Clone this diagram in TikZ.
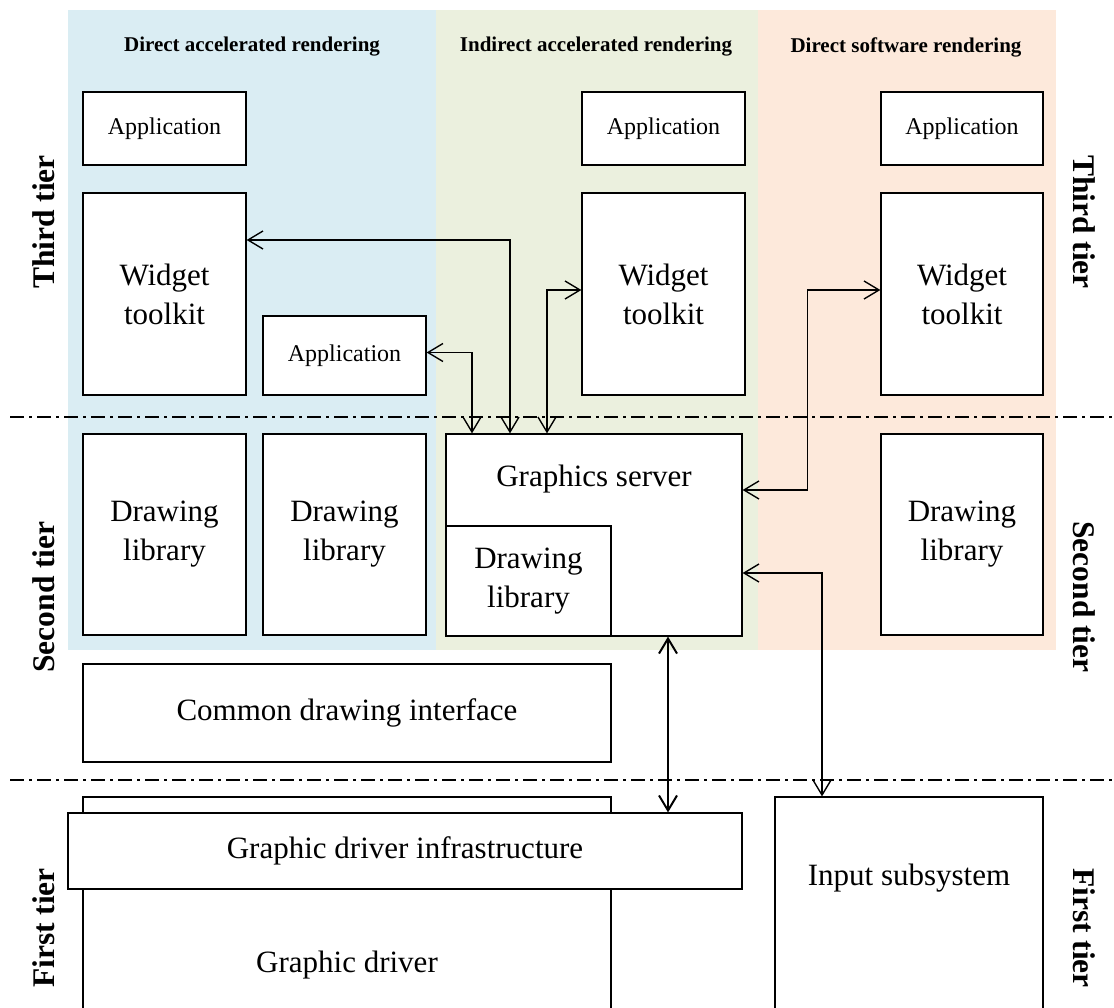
\documentclass[tikz,border=0pt]{standalone}
\usepackage{fontspec}
\setmainfont{Liberation Serif}
\usetikzlibrary{arrows.meta,calc}
\definecolor{bgblue}{RGB}{218,237,243}
\definecolor{bggreen}{RGB}{235,240,222}
\definecolor{bgorange}{RGB}{253,233,219}
\begin{document}
\begin{tikzpicture}[x=1pt,y=-1pt,
  box/.style={draw, line width=1.2pt, fill=white, inner sep=0pt, align=center,
    font=\fontsize{31}{39}\selectfont},
  appbox/.style={box, font=\fontsize{24}{28}\selectfont},
  bigtext/.style={inner sep=0pt, align=center, font=\fontsize{31}{39}\selectfont},
  hdr/.style={inner sep=0pt, font=\bfseries\fontsize{21}{24}\selectfont},
  tier/.style={inner sep=0pt, font=\bfseries\fontsize{31.5}{36}\selectfont},
  tip/.tip={Straight Barb[length=15pt,width=18pt]},
  biarrow/.style={line width=1.4pt, tip-tip},
  sepline/.style={line width=1.3pt, dash pattern=on 14pt off 5pt on 3pt off 5pt}]
\useasboundingbox (0,0) rectangle (1114,1008);
% background columns
\fill[bgblue] (68,10) rectangle (436,650);
\fill[bggreen] (436,10) rectangle (758,650);
\fill[bgorange] (758,10) rectangle (1056,650);
% headers
\node[hdr] (h1) at (252,47) {Direct accelerated rendering};
\node[hdr] (h2) at (596,47) {Indirect accelerated rendering};
\node[hdr] (h3) at (906,47) {Direct software rendering};
% tier separators
\draw[sepline] (10,417) -- (1114,417);
\draw[sepline] (10,780) -- (1114,780);
% column 1
\node[appbox, minimum width=163, minimum height=73] (app1) at (164.5,128.5) {Application};
\node[box, minimum width=163, minimum height=202] (wt1) at (164.5,294) {Widget\\toolkit};
\node[appbox, minimum width=163, minimum height=79] (app2) at (344.5,355.5) {Application};
\node[box, minimum width=163, minimum height=201] (dl1) at (164.5,534.5) {Drawing\\library};
\node[box, minimum width=163, minimum height=201] (dl2) at (344.5,534.5) {Drawing\\library};
\node[box, minimum width=528, minimum height=98] (cdi) at (347,713) {Common drawing interface};
% column 2
\node[appbox, minimum width=163, minimum height=73] (app3) at (663.5,128.5) {Application};
\node[box, minimum width=163, minimum height=202] (wt2) at (663.5,294) {Widget\\toolkit};
\node[box, minimum width=296, minimum height=202] (gs) at (594,535) {};
\node[bigtext] (gstext) at (594,479) {Graphics server};
\node[box, minimum width=165, minimum height=110] (dl3) at (528.5,581) {Drawing\\library};
% column 3
\node[appbox, minimum width=162, minimum height=73] (app4) at (962,128.5) {Application};
\node[box, minimum width=162, minimum height=202] (wt3) at (962,294) {Widget\\toolkit};
\node[box, minimum width=162, minimum height=201] (dl4) at (962,534.5) {Drawing\\library};
% first tier
\node[box, minimum width=528, minimum height=233] (gd) at (347,913.5) {};
\node[bigtext] (gdtext) at (347,965) {Graphic driver};
\node[box, minimum width=674, minimum height=76] (gdi) at (405,851) {Graphic driver infrastructure};
\node[box, minimum width=268, minimum height=233] (inp) at (909,913.5) {};
\node[bigtext] (inptext) at (909,878) {Input subsystem};
% tier labels
\node[tier, rotate=90] (l3) at (44,222) {Third tier};
\node[tier, rotate=90] (l2) at (44,597) {Second tier};
\node[tier, rotate=90] (l1) at (44,928) {First tier};
\node[tier, rotate=-90] (r3) at (1084,222) {Third tier};
\node[tier, rotate=-90] (r2) at (1084,597) {Second tier};
\node[tier, rotate=-90] (r1) at (1084,928) {First tier};
% connectors
\draw[biarrow] ([yshift=54]wt1.east) -| ([xshift=-84]gs.north);
\draw[biarrow] ([yshift=3]app2.east) -| ([xshift=-122]gs.north);
\draw[biarrow] ([yshift=4]wt2.west) -| ([xshift=-47]gs.north);
\draw[biarrow] ([yshift=4]wt3.west) -- ++(-73,0) |- ([yshift=45]gs.east);
\draw[biarrow] ([yshift=-38]gs.east) -| ([xshift=-87]inp.north);
\draw[biarrow, line width=2pt] ([xshift=74]gs.south) -- ([xshift=263]gdi.north);
\end{tikzpicture}
\end{document}
